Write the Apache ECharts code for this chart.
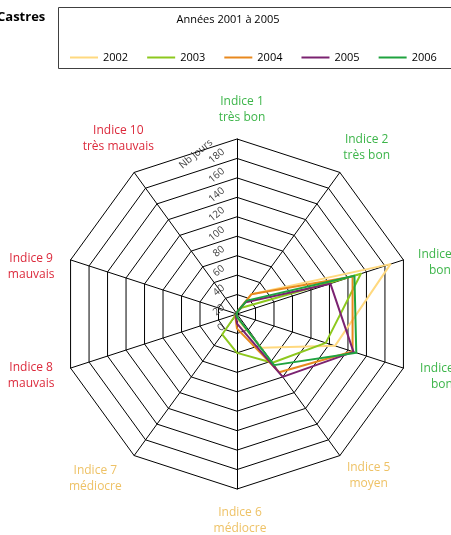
<!DOCTYPE html>
<html>
<head>
<meta charset="utf-8">
<script src="https://cdn.jsdelivr.net/npm/echarts@6/dist/echarts.min.js"></script>
<style>
  html, body { margin: 0; padding: 0; background: #fff; }
  #chart { width: 451px; height: 535px; }
</style>
</head>
<body>
<div id="chart"></div>
<script>
// Air-quality index categories, listed clockwise from the top
const indices = ['Indice 1', 'Indice 2', 'Indice 3', 'Indice 4', 'Indice 5',
                 'Indice 6', 'Indice 7', 'Indice 8', 'Indice 9', 'Indice 10'];
const qualities = ['très bon', 'très bon', 'bon', 'bon', 'moyen',
                   'médiocre', 'médiocre', 'mauvais', 'mauvais', 'très mauvais'];

// Number of days per index, one array per year
const years = ['2002', '2003', '2004', '2005', '2006'];
const days2002 = [2, 25, 166, 106, 43, 5, 1, 0, 0, 0];
const days2003 = [2, 8, 134, 96, 62, 40, 26, 1, 0, 0];
const days2004 = [2, 25, 125, 125, 74, 15, 3, 0, 0, 0];
const days2005 = [2, 15, 101, 126, 80, 10, 2, 0, 0, 0];
const days2006 = [2, 17, 127, 129, 65, 3, 1, 0, 0, 0];

// Value axis
const axisMin = 0;
const axisMax = 180;
const axisStep = 20;

const FONT = '"Open Sans", "Noto Sans", sans-serif';
const yearColors = ['#FFD97F', '#8DC81E', '#E8891E', '#7B2270', '#1FA33F'];
const qualityColor = ['#3DB54A', '#3DB54A', '#3DB54A', '#3DB54A', '#EEC266',
                      '#EEC266', '#EEC266', '#DC2A3C', '#DC2A3C', '#DC2A3C'];

const cx = 237, cy = 314, radius = 175;

// ECharts lays radar indicators counter-clockwise; reorder so they run clockwise
const order = [0, 9, 8, 7, 6, 5, 4, 3, 2, 1];
const seriesDays = [days2002, days2003, days2004, days2005, days2006];

const indicator = order.map((i, k) => {
  const ind = { name: indices[i], min: axisMin, max: axisMax };
  if (k === 0) {
    // Tick values along the top axis, slanted and set off below-left
    ind.axisLabel = {
      show: true, rotate: 40, color: '#404040', fontSize: 10, fontFamily: FONT,
      margin: 0, align: 'right', verticalAlign: 'middle', padding: [0, 18, 0, 0]
    };
  }
  return ind;
});

// Category names around the web
const nameRadius = 207;
const nameNudge = [[5, 3], [8, 1], [6, 13], [8, -1], [10, -6],
                   [3, 0], [-20, -3], [-9, -2], [-9, 17], [3, -8]];
const nameGraphics = indices.map((n, i) => {
  const a = (90 - 36 * i) * Math.PI / 180;
  return {
    type: 'text',
    x: cx + nameRadius * Math.cos(a) + nameNudge[i][0],
    y: cy - nameRadius * Math.sin(a) + nameNudge[i][1],
    style: {
      text: n + '\n' + qualities[i],
      fill: qualityColor[i],
      font: '12px ' + FONT,
      align: 'center',
      verticalAlign: 'middle',
      lineHeight: 16
    }
  };
});

const chart = echarts.init(document.getElementById('chart'), null, { renderer: 'canvas' });
chart.setOption({
  animation: false,
  backgroundColor: '#fff',
  title: [
    { text: 'Castres', left: -3, top: 11, padding: 0,
      textStyle: { fontSize: 13, fontWeight: 'bold', color: '#000', fontFamily: FONT } },
    { text: 'Années 2001 à 2005', left: 228, top: 14, padding: 0, textAlign: 'center',
      textStyle: { fontSize: 11, fontWeight: 'normal', color: '#000', fontFamily: FONT } }
  ],
  legend: {
    data: years,
    left: 70, top: 52,
    padding: 0,
    itemWidth: 28, itemHeight: 2, itemGap: 19,
    icon: 'rect',
    textStyle: { fontSize: 11, color: '#000', fontFamily: FONT }
  },
  graphic: [
    { type: 'rect', shape: { x: 58.5, y: 7.5, width: 420, height: 61 },
      style: { fill: 'none', stroke: '#404040', lineWidth: 1 } },
    { type: 'text', x: 196, y: 154, rotation: 40 * Math.PI / 180,
      style: { text: 'Nb jours', fill: '#404040', font: '10px ' + FONT,
               align: 'center', verticalAlign: 'middle' } }
  ].concat(nameGraphics),
  radar: {
    center: [cx, cy],
    radius: radius,
    startAngle: 90,
    splitNumber: (axisMax - axisMin) / axisStep,
    shape: 'polygon',
    indicator: indicator,
    axisName: { show: false },
    axisTick: { show: false },
    axisLine: { lineStyle: { color: '#000', width: 1 } },
    splitLine: { lineStyle: { color: '#000', width: 1 } },
    splitArea: { show: false }
  },
  series: years.map((y, s) => ({
    name: y,
    type: 'radar',
    symbol: 'none',
    color: yearColors[s],
    lineStyle: { width: 2, color: yearColors[s] },
    data: [{ name: y, value: order.map(i => seriesDays[s][i]) }]
  }))
});
</script>
</body>
</html>
